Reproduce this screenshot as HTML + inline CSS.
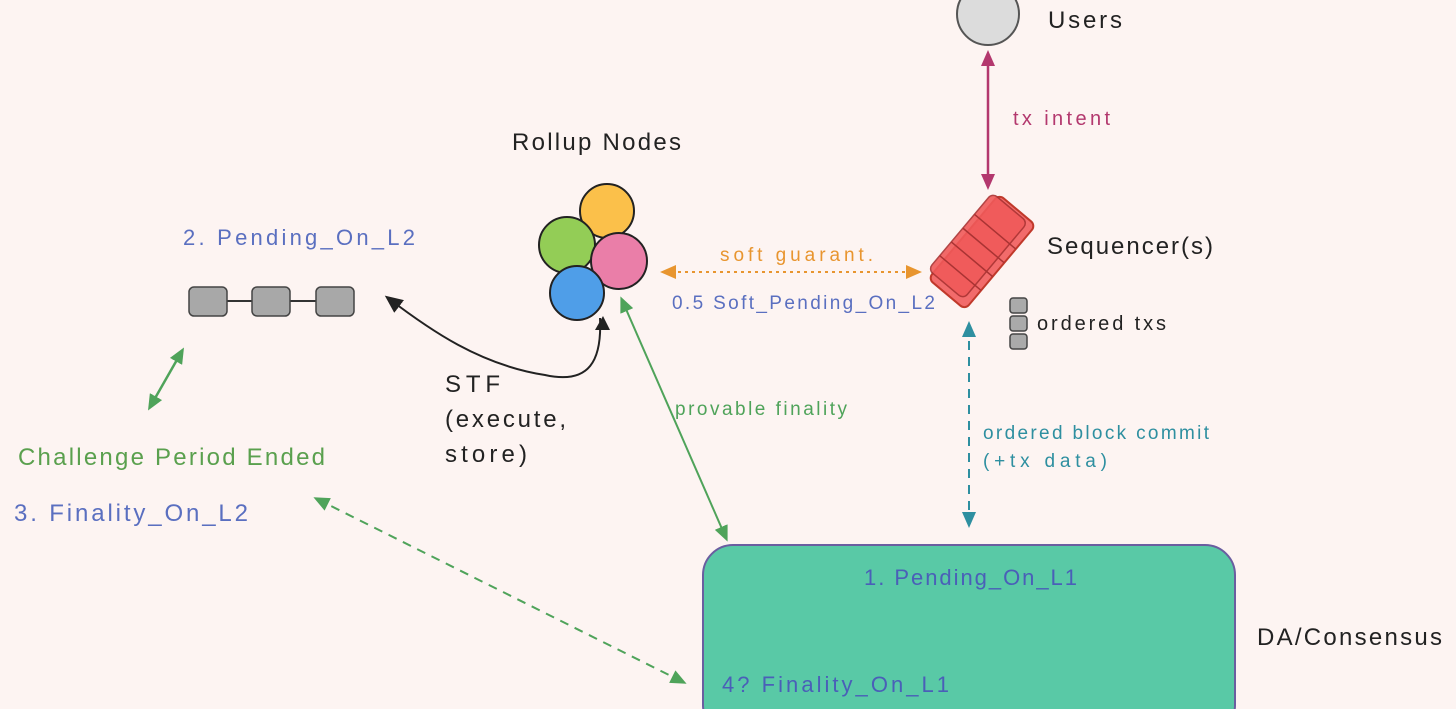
<!DOCTYPE html>
<html><head><meta charset="utf-8"><style>
html,body{margin:0;padding:0;background:#fdf4f2;}
svg{display:block;font-family:"Liberation Sans",sans-serif;}
</style></head><body>
<svg width="1456" height="709" viewBox="0 0 1456 709">
<defs>
<marker id="mr" markerWidth="16" markerHeight="14" refX="12" refY="7" orient="auto-start-reverse" markerUnits="userSpaceOnUse"><path d="M0,0 L16,7 L0,14 z" fill="#b3386e"/></marker>
<marker id="mo" markerWidth="16" markerHeight="14" refX="12" refY="7" orient="auto-start-reverse" markerUnits="userSpaceOnUse"><path d="M0,0 L16,7 L0,14 z" fill="#e8952f"/></marker>
<marker id="mg" markerWidth="16" markerHeight="14" refX="12" refY="7" orient="auto-start-reverse" markerUnits="userSpaceOnUse"><path d="M0,0 L16,7 L0,14 z" fill="#4fa35a"/></marker>
<marker id="mt" markerWidth="16" markerHeight="14" refX="12" refY="7" orient="auto-start-reverse" markerUnits="userSpaceOnUse"><path d="M0,0 L16,7 L0,14 z" fill="#2e8fa0"/></marker>
<marker id="mk" markerWidth="18" markerHeight="16" refX="14" refY="8" orient="auto" markerUnits="userSpaceOnUse"><path d="M0,0 L18,8 L0,16 z" fill="#222"/></marker>
</defs>
<g lengthAdjust="spacingAndGlyphs">
<circle cx="988" cy="14" r="31" fill="#dcdcdc" stroke="#555" stroke-width="2"/>
<text x="1048" y="28" font-size="24" fill="#222" textLength="74">Users</text>
<line x1="988" y1="54" x2="988" y2="186" stroke="#b3386e" stroke-width="2.5" marker-start="url(#mr)" marker-end="url(#mr)"/>
<text x="1013" y="125" font-size="20" fill="#b3386e" textLength="97">tx intent</text>
<g transform="translate(982,252) rotate(-50)">
<rect x="-55" y="-24" width="110" height="48" rx="6" fill="#f26b6b" stroke="#c0392b" stroke-width="2"/>
<rect x="-48" y="-30" width="100" height="46" rx="6" fill="#f05a5a" stroke="#a33" stroke-width="1.5" opacity=".9"/>
<path d="M-30,-30 L-30,24 M-12,-30 L-12,24 M6,-30 L6,24 M24,-30 L24,24" stroke="#a33" stroke-width="1.5"/>
</g>
<text x="1047" y="254" font-size="24" fill="#222" textLength="166">Sequencer(s)</text>
<rect x="1010" y="298" width="17" height="15" rx="3" fill="#aaa" stroke="#444" stroke-width="1.5"/>
<rect x="1010" y="316" width="17" height="15" rx="3" fill="#aaa" stroke="#444" stroke-width="1.5"/>
<rect x="1010" y="334" width="17" height="15" rx="3" fill="#aaa" stroke="#444" stroke-width="1.5"/>
<text x="1037" y="330" font-size="20" fill="#222" textLength="129">ordered txs</text>
<text x="512" y="150" font-size="24" fill="#222" textLength="169">Rollup Nodes</text>
<circle cx="607" cy="211" r="27" fill="#fbc04a" stroke="#222" stroke-width="2"/>
<circle cx="567" cy="245" r="28" fill="#93cd56" stroke="#222" stroke-width="2"/>
<circle cx="619" cy="261" r="28" fill="#ea7ea8" stroke="#222" stroke-width="2"/>
<circle cx="577" cy="293" r="27" fill="#4f9ee8" stroke="#222" stroke-width="2"/>
<line x1="664" y1="272" x2="918" y2="272" stroke="#e8952f" stroke-width="2" stroke-dasharray="3,4" marker-start="url(#mo)" marker-end="url(#mo)"/>
<text x="720" y="261" font-size="19" fill="#e8952f" textLength="153">soft guarant.</text>
<text x="672" y="309" font-size="19" fill="#5a6fc0" textLength="263">0.5 Soft_Pending_On_L2</text>
<text x="183" y="245" font-size="22" fill="#5a6fc0" textLength="232">2. Pending_On_L2</text>
<line x1="226" y1="301" x2="318" y2="301" stroke="#333" stroke-width="2"/>
<rect x="189" y="287" width="38" height="29" rx="5" fill="#a8a8a8" stroke="#444" stroke-width="1.5"/>
<rect x="252" y="287" width="38" height="29" rx="5" fill="#a8a8a8" stroke="#444" stroke-width="1.5"/>
<rect x="316" y="287" width="38" height="29" rx="5" fill="#a8a8a8" stroke="#444" stroke-width="1.5"/>
<path d="M600,318 C602,360 590,385 545,375 C480,365 430,330 388,298" fill="none" stroke="#222" stroke-width="2" marker-end="url(#mk)"/>
<path d="M603,316 L595,330 L610,330 z" fill="#222"/>
<text x="445" y="392" font-size="24" fill="#222" textLength="55">STF</text>
<text x="445" y="427" font-size="24" fill="#222" textLength="121">(execute,</text>
<text x="445" y="462" font-size="24" fill="#222" textLength="82">store)</text>
<line x1="182" y1="351" x2="150" y2="407" stroke="#4fa35a" stroke-width="2.5" marker-start="url(#mg)" marker-end="url(#mg)"/>
<text x="18" y="465" font-size="24" fill="#5aa04e" textLength="307">Challenge Period Ended</text>
<text x="14" y="521" font-size="24" fill="#5a6fc0" textLength="234">3. Finality_On_L2</text>
<line x1="317" y1="499" x2="683" y2="682" stroke="#4fa35a" stroke-width="2" stroke-dasharray="9,7" marker-start="url(#mg)" marker-end="url(#mg)"/>
<line x1="622" y1="300" x2="726" y2="538" stroke="#4fa35a" stroke-width="2" marker-start="url(#mg)" marker-end="url(#mg)"/>
<text x="675" y="415" font-size="19" fill="#4fa35a" textLength="172">provable finality</text>
<line x1="969" y1="325" x2="969" y2="524" stroke="#2e8fa0" stroke-width="2" stroke-dasharray="9,7" marker-start="url(#mt)" marker-end="url(#mt)"/>
<text x="983" y="439" font-size="19" fill="#2e8fa0" textLength="226">ordered block commit</text>
<text x="983" y="467" font-size="19" fill="#2e8fa0" textLength="124">(+tx data)</text>
<rect x="703" y="545" width="532" height="190" rx="30" fill="#59c9a6" stroke="#6a5ea0" stroke-width="2"/>
<text x="864" y="585" font-size="22" fill="#4a5fb8" textLength="213">1. Pending_On_L1</text>
<text x="722" y="692" font-size="22" fill="#4a5fb8" textLength="227">4? Finality_On_L1</text>
<text x="1257" y="645" font-size="24" fill="#222" textLength="185">DA/Consensus</text>
</g>
</svg>
</body></html>
